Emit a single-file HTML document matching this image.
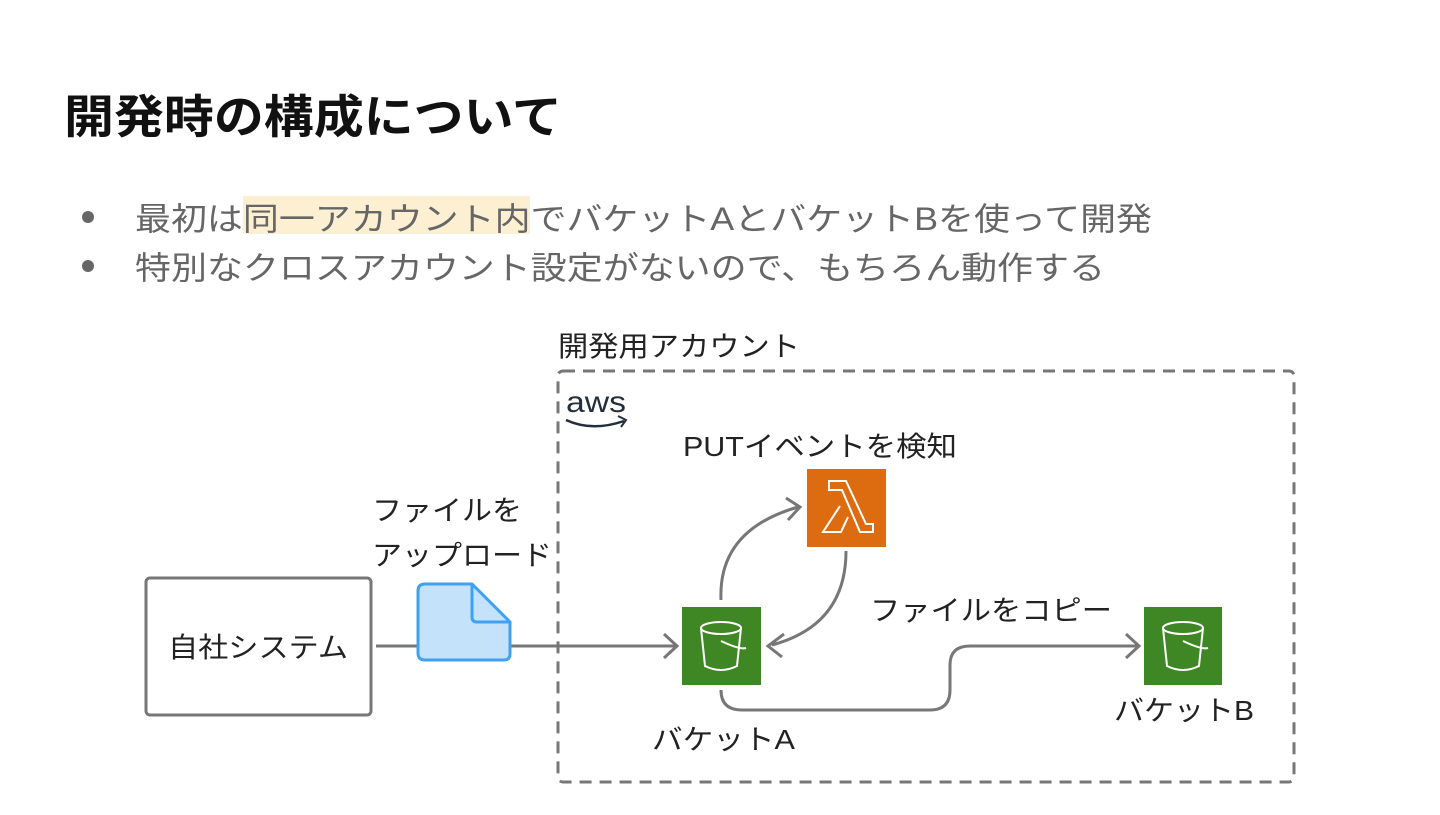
<!DOCTYPE html>
<html><head><meta charset="utf-8"><style>
body{margin:0;width:1440px;height:810px;background:#fff;overflow:hidden;font-family:"Liberation Sans","Noto Sans CJK JP",sans-serif;}
svg text{font-family:"Liberation Sans","Noto Sans CJK JP",sans-serif;}
</style></head><body>
<svg width="1440" height="810" xmlns="http://www.w3.org/2000/svg">
<text x="64" y="133" font-size="46" font-weight="bold" fill="#111" textLength="498" lengthAdjust="spacingAndGlyphs">開発時の構成について</text>
<rect x="243" y="196" width="287" height="38" fill="#fdf0d2"/>
<circle cx="88" cy="217" r="6" fill="#666"/>
<circle cx="88" cy="266" r="6" fill="#666"/>
<text x="135" y="230" font-size="32" fill="#666" textLength="1017" lengthAdjust="spacingAndGlyphs">最初は同一アカウント内でバケットAとバケットBを使って開発</text>
<text x="135" y="279" font-size="32" fill="#666" textLength="970" lengthAdjust="spacingAndGlyphs">特別なクロスアカウント設定がないので、もちろん動作する</text>
<text x="558" y="356" font-size="28" fill="#222" textLength="242" lengthAdjust="spacingAndGlyphs">開発用アカウント</text>
<rect x="558" y="371" width="736" height="411" rx="5" fill="none" stroke="#777" stroke-width="3" stroke-dasharray="12,8"/>
<text x="566" y="412" font-size="30" fill="#232f3e" textLength="60" lengthAdjust="spacingAndGlyphs">aws</text>
<path d="M566 420 Q592 432 624 421" fill="none" stroke="#232f3e" stroke-width="2.5"/>
<path d="M618 416 L626 420 L621 427" fill="none" stroke="#232f3e" stroke-width="2"/>
<text x="683" y="456" font-size="28" fill="#222" textLength="274" lengthAdjust="spacingAndGlyphs">PUTイベントを検知</text>
<rect x="807" y="469" width="79" height="78" fill="#dd6b10"/>
<path d="M829 481 H846 L866 524 H873 V532 H860 L842 490 H829 Z M840 506 L823 532 H841 L848 517" fill="none" stroke="#fff" stroke-width="2"/>
<text x="372" y="520" font-size="28" fill="#222" textLength="150" lengthAdjust="spacingAndGlyphs">ファイルを</text>
<text x="372" y="565" font-size="28" fill="#222" textLength="180" lengthAdjust="spacingAndGlyphs">アップロード</text>
<rect x="146" y="578" width="225" height="137" rx="4" fill="none" stroke="#777" stroke-width="3"/>
<text x="168" y="657" font-size="28" fill="#222" textLength="180" lengthAdjust="spacingAndGlyphs">自社システム</text>
<g stroke="#777" stroke-width="3" fill="none">
<line x1="376" y1="646" x2="676" y2="646"/>
<path d="M664 634 L677 646 L664 658"/>
<path d="M721 600 Q718 530 798 507"/>
<path d="M786 498 L800 507 L788 520"/>
<path d="M846 551 Q846 625 772 645"/>
<path d="M784 634 L768 646 L782 657"/>
<path d="M721 690 Q721 710 742 710 H930 Q950 710 950 690 V665 Q950 646 970 646 H1138"/>
<path d="M1126 634 L1139 646 L1126 658"/>
</g>
<path d="M425 584 H472 L510 622 V654 Q510 660 504 660 H425 Q418 660 418 653 V591 Q418 584 425 584 Z" fill="#c5e2fb" stroke="#3ea1f2" stroke-width="3"/>
<path d="M472 584 V617 Q472 622 477 622 H510" fill="none" stroke="#3ea1f2" stroke-width="3"/>
<rect x="682" y="607" width="79" height="78" fill="#3f8624"/>
<rect x="1144" y="607" width="78" height="78" fill="#3f8624"/>
<g fill="none" stroke="#fff" stroke-width="2">
<ellipse cx="721" cy="628" rx="20" ry="6"/><path d="M701 628 L705 666 Q721 674 737 666 L741 628"/><path d="M721 641 Q740 650 746 648"/>
<ellipse cx="1183" cy="628" rx="20" ry="6"/><path d="M1163 628 L1167 666 Q1183 674 1199 666 L1203 628"/><path d="M1183 641 Q1202 650 1208 648"/>
</g>
<text x="870" y="620" font-size="28" fill="#222" textLength="242" lengthAdjust="spacingAndGlyphs">ファイルをコピー</text>
<text x="652" y="749" font-size="28" fill="#222" textLength="143" lengthAdjust="spacingAndGlyphs">バケットA</text>
<text x="1114" y="720" font-size="28" fill="#222" textLength="140" lengthAdjust="spacingAndGlyphs">バケットB</text>
</svg>
</body></html>
